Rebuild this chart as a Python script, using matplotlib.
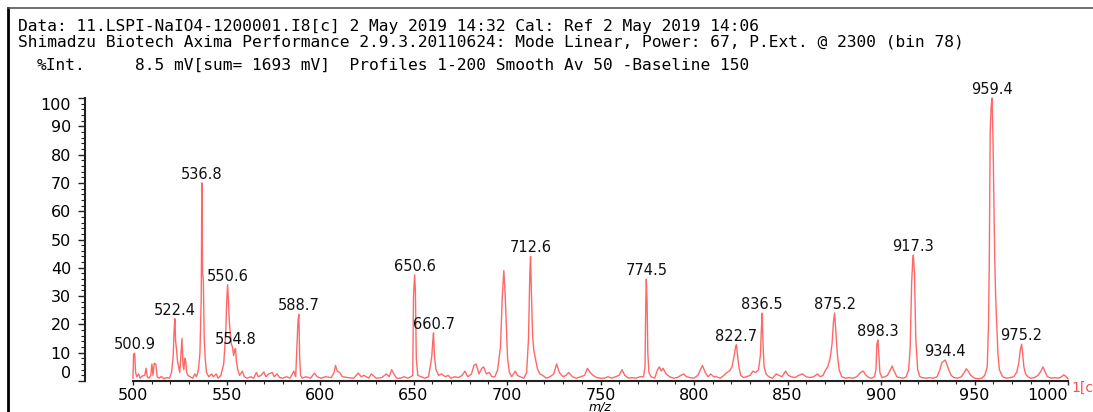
import numpy as np
import matplotlib
matplotlib.use('Agg')
import matplotlib.pyplot as plt
from matplotlib.lines import Line2D
from matplotlib.ticker import FixedLocator

plt.rcParams['font.family'] = ['DejaVu Sans']

# header lines of the spectrum printout
header_1 = 'Data: 11.LSPI-NaIO4-1200001.I8[c] 2 May 2019 14:32 Cal: Ref 2 May 2019 14:06'
header_2 = 'Shimadzu Biotech Axima Performance 2.9.3.20110624: Mode Linear, Power: 67, P.Ext. @ 2300 (bin 78)'
header_3 = '8.5 mV[sum= 1693 mV]  Profiles 1-200 Smooth Av 50 -Baseline 150'

# spectrum trace (m/z, %Int)
mz_500 = [500.0, 500.3, 500.9, 501.4, 502.0, 503.0, 503.8, 505.0, 506.3, 507.0, 507.6, 508.6,
          509.5, 510.1, 510.7, 511.3, 512.2, 512.9, 514.0, 515.2, 516.5, 518.0, 519.5, 520.6,
          521.5, 522.0, 522.4, 522.8, 523.3, 523.8, 524.4, 525.0, 525.6, 526.2, 526.7, 527.2,
          527.7, 528.2, 528.7, 529.4, 530.5, 532.0, 533.0, 534.0, 535.0, 535.8, 536.5, 536.8,
          537.2, 537.6, 538.1, 538.6, 539.3, 540.5, 542.0, 543.0, 544.5, 545.5, 547.0, 548.5,
          549.6, 550.1, 550.6, 551.0, 551.5, 552.0, 552.6, 553.2, 553.8, 554.4, 554.8, 555.3,
          556.0, 557.0, 558.5, 559.5]
int_500 = [1.0, 9.5, 9.8, 3.0, 1.5, 2.5, 1.0, 1.8, 2.0, 4.5, 1.5, 1.0,
           2.0, 6.0, 2.0, 6.2, 6.0, 1.5, 1.0, 1.6, 0.8, 1.2, 1.0, 3.0,
           9.0, 18.0, 22.0, 14.0, 11.0, 7.0, 5.0, 3.0, 9.0, 15.0, 6.0, 4.0,
           8.0, 7.0, 3.0, 2.0, 1.5, 1.0, 2.5, 1.5, 4.0, 10.0, 30.0, 70.0,
           38.0, 36.0, 15.0, 8.0, 3.0, 1.5, 2.5, 1.5, 2.5, 1.0, 2.0, 6.0,
           17.0, 28.0, 34.0, 29.0, 21.0, 17.0, 13.0, 12.0, 9.0, 11.0, 11.5, 7.0,
           4.0, 2.0, 3.5, 1.5]

mz_560 = [561.0, 563.0, 564.5, 566.0, 567.0, 568.5, 570.0, 571.0, 572.5, 574.5, 575.5, 577.0,
          578.5, 580.0, 582.0, 584.0, 586.0, 587.0, 587.8, 588.2, 588.7, 589.1, 589.6, 590.5,
          592.5, 595.0, 597.0, 598.5, 600.5, 603.0, 606.0, 607.5, 608.3, 609.2, 610.5, 612.0,
          615.0, 618.0, 620.5, 622.0, 623.5, 626.0, 627.5, 630.0, 633.0, 635.5, 637.0, 638.3,
          639.5, 641.0, 643.0, 645.0, 647.0, 648.5]
int_560 = [1.0, 1.5, 1.0, 3.0, 1.5, 2.0, 3.2, 1.5, 2.5, 3.0, 1.5, 2.5,
           1.2, 1.0, 1.5, 1.0, 3.5, 1.5, 14.0, 21.0, 23.5, 9.0, 2.0, 1.0,
           1.5, 1.0, 2.8, 1.5, 1.0, 1.5, 1.2, 3.0, 5.5, 3.5, 3.0, 1.5,
           1.2, 1.0, 2.8, 1.5, 2.0, 1.0, 2.5, 1.0, 1.2, 2.5, 1.5, 4.0,
           2.5, 1.0, 1.0, 1.5, 1.0, 1.5]

mz_650 = [649.6, 650.0, 650.6, 651.0, 651.5, 652.3, 654.0, 656.0, 658.0, 659.2, 659.8, 660.3,
          660.7, 661.2, 662.0, 663.5, 665.0, 667.0, 668.5, 670.0, 672.0, 674.0, 676.0, 677.5,
          679.0, 681.0, 682.3, 683.5, 685.0, 686.5, 687.5, 689.0, 690.5, 692.0, 693.5, 695.0,
          696.5, 697.5, 698.3, 699.0, 699.6, 700.3, 701.3, 702.5, 703.5, 704.5, 705.5, 707.0,
          709.0, 710.5, 711.5, 712.2, 712.6, 713.1, 713.7, 714.3, 715.2, 716.2, 717.5, 719.0,
          721.0, 723.0, 725.0, 726.5, 728.0, 730.0, 731.5, 733.0, 735.0, 737.0, 739.5, 741.5,
          743.0, 744.5, 746.0, 748.0, 750.0, 752.0, 754.0, 756.0, 758.0]
int_650 = [2.0, 30.0, 37.5, 32.0, 8.0, 2.0, 1.5, 1.0, 1.5, 6.0, 9.0, 14.0,
           17.0, 9.0, 4.0, 2.0, 2.5, 1.5, 2.0, 1.0, 1.5, 1.2, 2.0, 3.5,
           1.5, 2.5, 5.5, 6.0, 2.5, 4.5, 5.0, 2.5, 3.0, 1.5, 1.5, 4.0,
           12.0, 30.0, 39.0, 31.0, 20.0, 8.0, 3.0, 1.5, 2.5, 3.5, 2.0, 1.5,
           1.0, 3.0, 15.0, 38.0, 44.0, 30.0, 16.0, 11.0, 8.0, 4.5, 2.5, 2.0,
           1.0, 1.5, 2.5, 6.0, 3.0, 1.5, 2.0, 3.0, 1.5, 1.0, 1.5, 2.0,
           4.5, 3.0, 2.0, 1.2, 1.0, 1.0, 1.5, 1.0, 1.5]

mz_760 = [760.0, 761.5, 763.0, 765.0, 767.0, 769.0, 771.0, 773.0, 773.8, 774.2, 774.5, 774.9,
          775.3, 775.9, 777.0, 779.0, 780.5, 781.5, 782.5, 783.5, 785.0, 787.0, 789.0, 791.0,
          793.0, 794.5, 796.0, 798.0, 800.0, 802.0, 803.5, 804.5, 806.0, 807.5, 809.0, 810.5,
          812.0, 814.0, 816.0, 817.5, 819.0, 820.3, 821.5, 822.2, 822.7, 823.3, 824.0, 825.0,
          826.5, 828.0, 830.0, 831.5, 833.0, 834.5, 835.5, 836.0, 836.5, 836.9, 837.5, 838.5,
          840.0, 842.0, 844.0, 845.5, 847.0, 849.0, 850.5, 852.0, 854.0, 856.0, 858.0, 860.0,
          862.0, 864.0, 866.0, 867.5, 869.0, 870.5]
int_760 = [2.0, 4.0, 2.0, 1.0, 1.2, 1.0, 1.5, 1.5, 5.0, 27.0, 36.0, 28.0,
           10.0, 3.0, 1.5, 1.0, 4.0, 5.0, 3.5, 4.5, 2.5, 1.5, 1.0, 1.2,
           2.0, 2.5, 1.5, 1.2, 1.0, 2.0, 4.0, 5.5, 3.0, 1.5, 2.5, 1.5,
           1.5, 1.0, 2.0, 3.0, 3.5, 5.0, 9.0, 12.0, 12.8, 9.0, 5.0, 2.0,
           1.2, 1.5, 2.0, 3.5, 3.0, 4.0, 9.0, 18.0, 24.0, 13.0, 5.0, 2.5,
           1.5, 1.0, 2.5, 2.0, 1.5, 3.5, 2.0, 1.5, 1.2, 2.0, 2.5, 1.5,
           1.2, 1.5, 2.5, 1.5, 2.0, 4.0]

mz_870 = [871.5, 872.8, 873.8, 874.6, 875.2, 875.8, 876.6, 877.6, 879.0, 881.0, 883.0, 885.0,
          887.0, 889.0, 890.5, 892.0, 893.5, 895.0, 896.5, 897.3, 897.8, 898.3, 898.8, 899.4,
          900.5, 902.0, 903.5, 905.0, 906.0, 907.0, 908.5, 910.0, 912.0, 913.5, 914.8, 915.6,
          916.4, 917.0, 917.3, 917.9, 918.6, 919.6, 920.8, 922.0, 924.0, 926.0, 928.0, 930.0,
          931.5, 932.5, 933.5, 934.4, 935.2, 936.2, 937.5, 939.0, 941.0, 943.0, 944.5, 945.6,
          946.6, 948.0, 950.0, 952.0, 954.0, 955.5, 956.8, 957.5, 957.9, 958.4, 958.9, 959.4,
          959.9, 960.3, 960.8, 961.3, 961.8, 962.5, 963.3, 965.0, 967.0, 969.0, 971.0, 972.5,
          973.6, 974.5, 975.2, 975.7, 976.4, 977.3, 978.5, 980.0, 982.0, 984.0, 985.5, 986.6,
          987.6, 989.0, 991.0, 993.0, 995.0, 996.5, 997.8, 999.0, 1000.0]
int_870 = [5.0, 8.0, 13.0, 21.0, 24.0, 18.0, 10.0, 4.0, 1.5, 1.0, 1.2, 1.0,
           1.5, 3.0, 3.5, 2.0, 1.2, 1.0, 1.5, 4.0, 13.0, 14.5, 10.0, 3.0,
           1.2, 1.5, 2.0, 4.0, 5.3, 3.5, 1.5, 1.2, 1.0, 1.5, 4.0, 12.0,
           35.0, 43.0, 44.5, 38.0, 15.0, 4.0, 1.5, 1.2, 1.0, 1.2, 1.0, 1.5,
           4.0, 6.5, 7.0, 7.4, 6.0, 4.0, 2.0, 1.2, 1.0, 1.5, 3.0, 4.3,
           3.5, 2.0, 1.0, 0.8, 1.0, 2.0, 5.0, 20.0, 42.0, 88.0, 97.0, 100.0,
           85.0, 67.0, 44.0, 30.0, 22.0, 10.0, 4.0, 1.5, 1.0, 1.2, 1.5, 3.0,
           6.0, 11.0, 13.0, 10.0, 5.0, 2.5, 1.5, 1.0, 1.2, 2.0, 3.5, 5.0,
           3.5, 1.5, 1.0, 1.2, 1.0, 1.5, 2.2, 1.5, 0.8]

# labelled peaks
peak_mz = [500.9, 522.4, 536.8, 550.6, 554.8, 588.7, 650.6, 660.7, 712.6, 774.5,
           822.7, 836.5, 875.2, 898.3, 917.3, 934.4, 959.4, 975.2]

x_ticks = list(range(500, 1001, 50))
y_ticks = list(range(0, 101, 10))

mz = np.array(mz_500 + mz_560 + mz_650 + mz_760 + mz_870)
inten = np.array(int_500 + int_560 + int_650 + int_760 + int_870)

W, H = 1093, 412
fig = plt.figure(figsize=(W / 100, H / 100), dpi=100)

# axes box: y spine at px 85, m/z 500 at px 133, 1000 at px 1068
ax = fig.add_axes([85 / W, (H - 381) / H, (1068 - 85) / W, (381 - 98) / H])
ax.plot(mz, inten, color='#ff4d4d', lw=1.0, alpha=0.85, clip_on=False)
ax.set_xlim(500 - 48 / 1.87, 1000)
ax.set_ylim(0, 100)

for p in peak_mz:
    ax.annotate(f'{p:.1f}', (p, np.interp(p, mz, inten)), xytext=(0, 4),
                textcoords='offset pixels', ha='center', va='baseline',
                fontsize=10.5, color='#111111', annotation_clip=False)

for s in ['top', 'right']:
    ax.spines[s].set_visible(False)
ax.spines['bottom'].set_bounds(500, 1000)
ax.spines['left'].set_bounds(0, 100)
for s in ['bottom', 'left']:
    ax.spines[s].set_linewidth(1.5)
    ax.spines[s].set_color('#222222')

ax.xaxis.set_major_locator(FixedLocator(x_ticks))
ax.xaxis.set_minor_locator(FixedLocator(np.arange(500, 1001, 10)))
ax.yaxis.set_major_locator(FixedLocator(y_ticks))
ax.yaxis.set_minor_locator(FixedLocator(np.arange(0, 101, 2)))
ax.set_xticklabels([str(v) for v in x_ticks])
ax.set_yticklabels([str(v) for v in y_ticks])
ax.tick_params(axis='x', which='major', length=3, width=1, pad=2, labelsize=11.5, color='#222222')
ax.tick_params(axis='x', which='minor', length=2, width=0.8, color='#222222')
ax.tick_params(axis='y', which='major', length=5, width=1, pad=5, labelsize=11.5, color='#222222')
ax.tick_params(axis='y', which='minor', length=3, width=0.8, color='#222222')
ax.get_xticklabels()[-1].set_ha('right')
ax.get_yticklabels()[0].set_va('bottom')
ax.get_yticklabels()[-1].set_va('top')

# trace name and axis title
ax.text(1002, 0, '1[c]', color='#ff4d4d', fontsize=10, va='top', ha='left', clip_on=False)
fig.text(600 / W, 1 - 401 / H, 'm/z', style='italic', fontsize=9, ha='center', va='top')

# header text, wide spaced like the printout
mono = ['DejaVu Sans Mono']
fig.text(18 / W, 1 - 27 / H, header_1, fontsize=11.7, family=mono, va='center')
fig.text(18 / W, 1 - 42 / H, header_2, fontsize=11.7, family=mono, va='center')
fig.text(37 / W, 1 - 65 / H, '%Int.', fontsize=11.7, family=mono, va='center')
fig.text(135 / W, 1 - 65 / H, header_3, fontsize=11.7, family=mono, va='center')

# printout frame
fig.add_artist(Line2D([8 / W, 8 / W], [0, 1 - 8 / H], color='black', lw=2))
fig.add_artist(Line2D([8 / W, 1], [1 - 8 / H, 1 - 8 / H], color='#555555', lw=1.2))

fig.savefig('out.png', dpi=100)
